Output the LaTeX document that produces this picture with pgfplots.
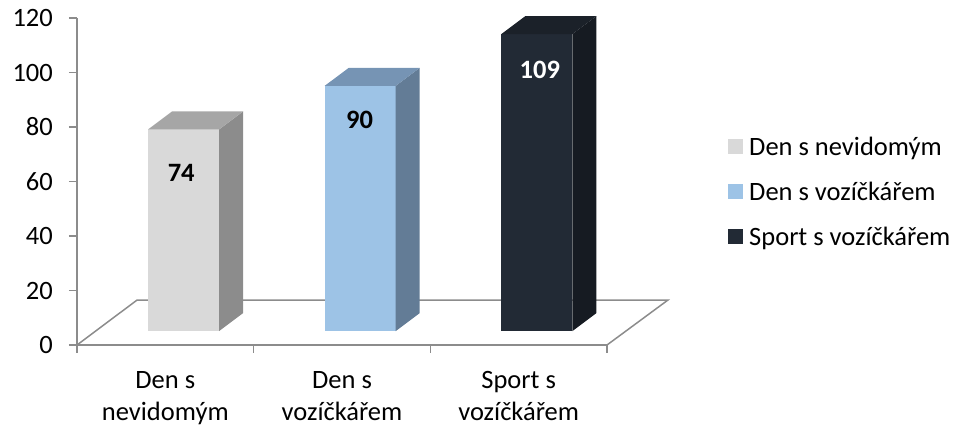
\documentclass[border=0pt]{standalone}
\usepackage{fontspec}
\setmainfont{Carlito}
\usepackage{pgfplots}
\pgfplotsset{compat=1.18}
\definecolor{axisgray}{RGB}{140,140,140}
\definecolor{aF}{RGB}{217,217,217}
\definecolor{aS}{RGB}{140,140,140}
\definecolor{aT}{RGB}{166,166,166}
\definecolor{bF}{RGB}{157,195,230}
\definecolor{bS}{RGB}{99,124,150}
\definecolor{bT}{RGB}{118,148,180}
\definecolor{cF}{RGB}{34,42,53}
\definecolor{cS}{RGB}{22,27,34}
\definecolor{cT}{RGB}{27,33,41}
\newcommand{\bigfont}{\fontsize{26.5}{32}\selectfont}
\begin{document}
\begin{tikzpicture}
\begin{axis}[
  at={(0,0)}, anchor=origin,
  scale only axis, width=530pt, height=327pt,
  xmin=0, xmax=3, ymin=0, ymax=120,
  clip=false,
  axis lines*=left,
  axis line style={draw=axisgray, line width=1.5pt},
  tick style={draw=axisgray, line width=1.5pt},
  tick align=outside, major tick length=8pt,
  ytick={0,20,40,60,80,100,120},
  xtick={0,1,2,3}, xticklabels={},
  extra x ticks={0.5,1.5,2.5},
  extra x tick labels={{Den s\\nevidomým},{Den s\\vozíčkářem},{Sport s\\vozíčkářem}},
  extra x tick style={major tick length=0pt,
    xticklabel style={align=center, inner sep=0pt, anchor=north, yshift=-26pt, font=\bigfont}},
  /pgf/number format/assume math mode=true,
  yticklabel style={font=\bigfont, anchor=east, inner sep=0pt, xshift=-16pt},
  legend style={at={(1.2283,0.468)}, anchor=west, draw=none, fill=none,
    inner sep=0pt, row sep=18pt, column sep=6pt,
    cells={anchor=west},
    nodes={inner sep=0pt, text height=22pt, text depth=5pt, font=\bigfont}},
  legend image code/.code={\fill[#1] (0pt,-7.5pt) rectangle (15pt,7.5pt);},
]
% floor
\addplot[draw=axisgray, line width=1.5pt, forget plot] coordinates {(0,0) (0.34,16.5) (3.345,16.5) (3,0)};
% bar 1 : 74
\addplot[fill=aF, draw=none, forget plot] coordinates {(0.402,5.1) (0.804,5.1) (0.804,79.1) (0.402,79.1)} -- cycle;
\addplot[fill=aS, draw=none, forget plot] coordinates {(0.804,5.1) (0.940,11.7) (0.940,85.7) (0.804,79.1)} -- cycle;
\addplot[fill=aT, draw=none, forget plot] coordinates {(0.402,79.1) (0.804,79.1) (0.940,85.7) (0.538,85.7)} -- cycle;
% bar 2 : 90
\addplot[fill=bF, draw=none, forget plot] coordinates {(1.402,5.1) (1.804,5.1) (1.804,95.1) (1.402,95.1)} -- cycle;
\addplot[fill=bS, draw=none, forget plot] coordinates {(1.804,5.1) (1.940,11.7) (1.940,101.7) (1.804,95.1)} -- cycle;
\addplot[fill=bT, draw=none, forget plot] coordinates {(1.402,95.1) (1.804,95.1) (1.940,101.7) (1.538,101.7)} -- cycle;
% bar 3 : 109
\addplot[fill=cF, draw=none, forget plot] coordinates {(2.402,5.1) (2.804,5.1) (2.804,114.1) (2.402,114.1)} -- cycle;
\addplot[fill=cS, draw=none, forget plot] coordinates {(2.804,5.1) (2.940,11.7) (2.940,120.7) (2.804,114.1)} -- cycle;
\addplot[fill=cT, draw=none, forget plot] coordinates {(2.402,114.1) (2.804,114.1) (2.940,120.7) (2.538,120.7)} -- cycle;
% data labels
\addplot[only marks, mark=none, forget plot, point meta=explicit symbolic,
  nodes near coords, nodes near coords align={center},
  every node near coord/.append style={font=\bigfont\bfseries, anchor=center}]
  coordinates {(0.59,63.1) [74] (1.60,82.6) [90] (2.62,100.9) [\textcolor{white}{109}]};
\addlegendimage{fill=aF, draw=none}
\addlegendentry{Den s nevidomým}
\addlegendimage{fill=bF, draw=none}
\addlegendentry{Den s vozíčkářem}
\addlegendimage{fill=cF, draw=none}
\addlegendentry{Sport s vozíčkářem}
\end{axis}
\pgfresetboundingbox
\useasboundingbox (-77pt,-85pt) rectangle (880pt,345pt);
\end{tikzpicture}
\end{document}
